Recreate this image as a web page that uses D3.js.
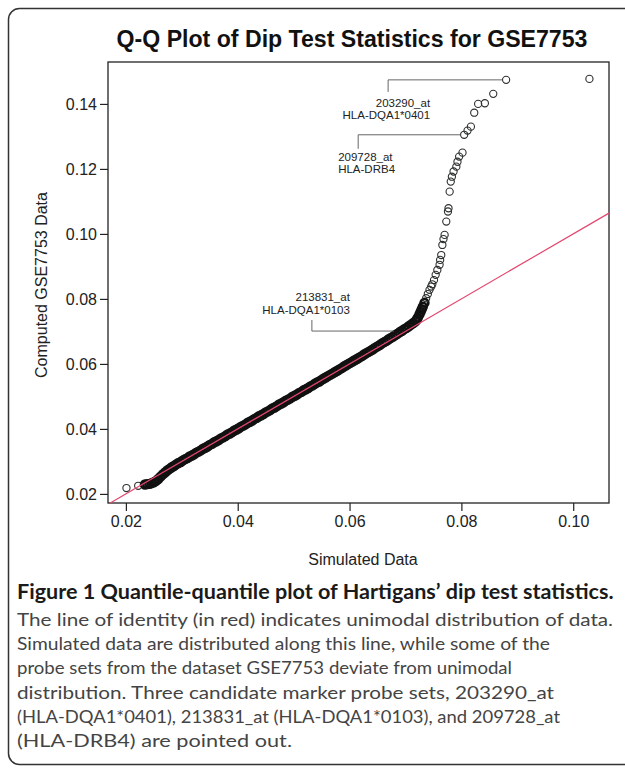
<!DOCTYPE html>
<html>
<head>
<meta charset="utf-8">
<script src="https://cdn.jsdelivr.net/npm/d3@7"></script>
<style>
  body { margin: 0; background: #fff; }
  svg { display: block; }
</style>
</head>
<body>
<svg id="chart" width="625" height="771"></svg>
<script>
const chartTitle = 'Q-Q Plot of Dip Test Statistics for GSE7753';
const xLabel = 'Simulated Data';
const yLabel = 'Computed GSE7753 Data';
const xTicks = [0.02, 0.04, 0.06, 0.08, 0.10];
const yTicks = [0.02, 0.04, 0.06, 0.08, 0.10, 0.12, 0.14];

// simulated quantiles (x) and observed GSE7753 dip statistics (y)
const simulated = [
    0.0201, 0.0222,
    0.0234, 0.0238, 0.0242, 0.0246, 0.0250, 0.0254, 0.0258, 0.0262, 0.0266, 0.0270,
    0.0274, 0.0278, 0.0282, 0.0286, 0.0290, 0.0294, 0.0298, 0.0302, 0.0306, 0.0310,
    0.0314, 0.0318, 0.0322, 0.0326, 0.0330, 0.0334, 0.0338, 0.0342, 0.0346, 0.0350,
    0.0354, 0.0358, 0.0362, 0.0366, 0.0370, 0.0374, 0.0378, 0.0382, 0.0386, 0.0390,
    0.0394, 0.0398, 0.0402, 0.0406, 0.0410, 0.0414, 0.0418, 0.0422, 0.0426, 0.0430,
    0.0434, 0.0438, 0.0442, 0.0446, 0.0450, 0.0454, 0.0458, 0.0462, 0.0466, 0.0470,
    0.0474, 0.0478, 0.0482, 0.0486, 0.0490, 0.0494, 0.0498, 0.0502, 0.0506, 0.0510,
    0.0514, 0.0518, 0.0522, 0.0526, 0.0530, 0.0534, 0.0538, 0.0542, 0.0546, 0.0550,
    0.0554, 0.0558, 0.0562, 0.0566, 0.0570, 0.0574, 0.0578, 0.0582, 0.0586, 0.0590,
    0.0594, 0.0598, 0.0602, 0.0606, 0.0610, 0.0614, 0.0618, 0.0622, 0.0626, 0.0630,
    0.0634, 0.0638, 0.0642, 0.0646, 0.0650, 0.0654, 0.0658, 0.0662, 0.0666, 0.0670,
    0.0674, 0.0678, 0.0682, 0.0686, 0.0690, 0.0694, 0.0698, 0.0702, 0.0706, 0.0710,
    0.0714, 0.0718,
    0.0720, 0.0722, 0.0725, 0.0727, 0.0729, 0.0731, 0.0734, 0.0737, 0.0740, 0.0743,
    0.0746, 0.0748, 0.0751, 0.0754, 0.0757, 0.0761, 0.0762, 0.0764, 0.0766, 0.0768,
    0.0770, 0.0773, 0.0776, 0.0777, 0.0779, 0.0781, 0.0783, 0.0786, 0.0791, 0.0793,
    0.0796, 0.0802, 0.0805, 0.0811, 0.0817, 0.0823, 0.0830, 0.0842, 0.0857, 0.0880,
    0.1029,
];
const computed = [
    0.0218, 0.0225,
    0.0229, 0.0230, 0.0231, 0.0233, 0.0236, 0.0240, 0.0246, 0.0253, 0.0260, 0.0266,
    0.0272, 0.0277, 0.0282, 0.0286, 0.0291, 0.0295, 0.0298, 0.0303, 0.0307, 0.0310,
    0.0315, 0.0318, 0.0322, 0.0327, 0.0330, 0.0334, 0.0339, 0.0342, 0.0346, 0.0351,
    0.0354, 0.0359, 0.0362, 0.0366, 0.0371, 0.0374, 0.0378, 0.0383, 0.0386, 0.0390,
    0.0395, 0.0398, 0.0402, 0.0407, 0.0410, 0.0414, 0.0419, 0.0422, 0.0426, 0.0431,
    0.0434, 0.0439, 0.0442, 0.0446, 0.0451, 0.0454, 0.0458, 0.0463, 0.0466, 0.0470,
    0.0475, 0.0478, 0.0482, 0.0487, 0.0490, 0.0494, 0.0499, 0.0502, 0.0506, 0.0511,
    0.0514, 0.0519, 0.0522, 0.0526, 0.0531, 0.0534, 0.0539, 0.0543, 0.0546, 0.0551,
    0.0555, 0.0559, 0.0563, 0.0567, 0.0571, 0.0575, 0.0579, 0.0583, 0.0587, 0.0592,
    0.0596, 0.0600, 0.0604, 0.0608, 0.0612, 0.0616, 0.0620, 0.0624, 0.0629, 0.0633,
    0.0637, 0.0641, 0.0645, 0.0650, 0.0654, 0.0658, 0.0663, 0.0667, 0.0671, 0.0676,
    0.0680, 0.0684, 0.0689, 0.0693, 0.0698, 0.0702, 0.0707, 0.0711, 0.0716, 0.0721,
    0.0726, 0.0731,
    0.0736, 0.0742, 0.0752, 0.0760, 0.0768, 0.0776, 0.0788, 0.0802, 0.0815, 0.0828,
    0.0838, 0.0845, 0.0858, 0.0874, 0.0889, 0.0905, 0.0920, 0.0935, 0.0966, 0.0984,
    0.0997, 0.1038, 0.1069, 0.1079, 0.1130, 0.1161, 0.1176, 0.1192, 0.1207, 0.1222,
    0.1238, 0.1250, 0.1305, 0.1318, 0.1330, 0.1373, 0.1400, 0.1402, 0.1431, 0.1474,
    0.1477,
];

// pointed-out probe sets and the point each one labels
const probeIds = ['203290_at', '209728_at', '213831_at'];
const geneNames = ['HLA-DQA1*0401', 'HLA-DRB4', 'HLA-DQA1*0103'];
const probeSim = [0.0880, 0.0805, 0.0690];

const captionTitle = 'Figure 1 Quantile-quantile plot of Hartigans\u2019 dip test statistics.';
const captionLines = [
    'The line of identity (in red) indicates unimodal distribution of data.',
    'Simulated data are distributed along this line, while some of the',
    'probe sets from the dataset GSE7753 deviate from unimodal',
    'distribution. Three candidate marker probe sets, 203290_at',
    '(HLA-DQA1*0401), 213831_at (HLA-DQA1*0103), and 209728_at',
    '(HLA-DRB4) are pointed out.',
];

const svg = d3.select('#chart');
const box = { left: 108, top: 62, right: 609, bottom: 503 };
const axisFont = '"Liberation Sans", Arial, sans-serif';

// outer figure frame, right edge runs off the page
svg.append('rect')
    .attr('x', 8.5)
    .attr('y', 8.5)
    .attr('width', 660)
    .attr('height', 756)
    .attr('rx', 11)
    .attr('fill', 'none')
    .attr('stroke', '#333')
    .attr('stroke-width', 1.5);

const x = d3.scaleLinear().domain([0.0168, 0.1064]).range([box.left, box.right]);
const y = d3.scaleLinear().domain([0.0172, 0.1529]).range([box.bottom, box.top]);

const title = svg.append('text')
    .attr('x', 352)
    .attr('y', 47)
    .attr('text-anchor', 'middle')
    .style('font-family', axisFont)
    .style('font-weight', 'bold')
    .style('font-size', '20px')
    .attr('fill', '#111')
    .text(chartTitle);
const tw = title.node().getComputedTextLength();
title.style('font-size', `${(20 * 471) / tw}px`);

const xAxis = svg.append('g')
    .attr('transform', `translate(0,${box.bottom})`)
    .call(d3.axisBottom(x).tickValues(xTicks).tickFormat(d3.format('.2f')).tickSize(8).tickPadding(5));
const yAxis = svg.append('g')
    .attr('transform', `translate(${box.left},0)`)
    .call(d3.axisLeft(y).tickValues(yTicks).tickFormat(d3.format('.2f')).tickSize(8).tickPadding(3));

[xAxis, yAxis].forEach((g) => {
    g.select('.domain').remove();
    g.selectAll('line').attr('stroke', '#222').attr('stroke-width', 1.2);
    g.selectAll('text')
        .style('font-family', axisFont)
        .style('font-size', '16px')
        .attr('fill', '#222');
});

svg.append('rect')
    .attr('x', box.left)
    .attr('y', box.top)
    .attr('width', box.right - box.left)
    .attr('height', box.bottom - box.top)
    .attr('fill', 'none')
    .attr('stroke', '#222')
    .attr('stroke-width', 1.3);

svg.append('text')
    .attr('x', 363)
    .attr('y', 565)
    .attr('text-anchor', 'middle')
    .style('font-family', axisFont)
    .style('font-size', '16px')
    .attr('fill', '#222')
    .text(xLabel);

svg.append('text')
    .attr('transform', 'translate(47,285) rotate(-90)')
    .attr('text-anchor', 'middle')
    .style('font-family', axisFont)
    .style('font-size', '16px')
    .attr('fill', '#222')
    .text(yLabel);

const plot = svg.append('g');
const points = simulated.map((d, i) => [d, computed[i]]);
// the body of the distribution is heavily overplotted, so it prints as a solid band
const dense = (d) => d[0] > 0.023 && d[0] < 0.0735;

plot.selectAll('circle')
    .data(points)
    .enter()
    .append('circle')
    .attr('cx', (d) => x(d[0]))
    .attr('cy', (d) => y(d[1]))
    .attr('r', (d) => (dense(d) ? 3.9 : 3.6))
    .attr('fill', 'none')
    .attr('stroke', (d) => (dense(d) ? '#111' : '#2b2f2e'))
    .attr('stroke-width', (d) => (dense(d) ? 2.6 : 1.1));

// line of identity
plot.append('line')
    .attr('x1', x(0.0172))
    .attr('y1', y(0.0172))
    .attr('x2', x(0.1064))
    .attr('y2', y(0.1064))
    .attr('stroke', '#e5466f')
    .attr('stroke-width', 1.2);

// leader lines: horizontal run from the point, then a short vertical drop
const leaders = [
    { run: -114, drop: 12, tx: -76, ty: 27, anchor: 'end' },
    { run: -102, drop: 14, tx: -126, ty: 26, anchor: 'start' },
    { run: -82, drop: -11, tx: -48, ty: -31, anchor: 'end' },
];

probeIds.forEach((id, i) => {
    const idx = simulated.indexOf(probeSim[i]);
    const px = x(simulated[idx]) - (i === 2 ? 6 : 4);
    const py = y(computed[idx]);
    const L = leaders[i];
    const ly = i === 2 ? py - 1 : py;

    plot.append('path')
        .attr('d', `M${px},${ly}H${px + L.run}V${ly + L.drop}`)
        .attr('fill', 'none')
        .attr('stroke', '#666')
        .attr('stroke-width', 1);

    const label = plot.append('text')
        .attr('x', px + 4 + L.tx)
        .attr('y', py + L.ty)
        .attr('text-anchor', L.anchor)
        .style('font-family', axisFont)
        .style('font-size', '11.5px')
        .attr('fill', '#222');
    label.append('tspan').text(id);
    label.append('tspan')
        .attr('x', px + 4 + L.tx)
        .attr('dy', 12.5)
        .text(geneNames[i]);
});

// caption
const capFont = 'Lato, "Open Sans", sans-serif';
const capTitle = svg.append('text')
    .attr('x', 17)
    .attr('y', 599)
    .style('font-family', capFont)
    .style('font-weight', 'bold')
    .style('font-size', '17px')
    .attr('fill', '#1a1a1a')
    .text(captionTitle);
const ctw = capTitle.node().getComputedTextLength();
capTitle.style('font-size', `${(17 * 597) / ctw}px`);

// printed line widths of the body text, so the ragged right edge matches
const lineWidths = [596, 533, 495, 537, 543, 275];
const capBody = svg.append('g');
capBody.selectAll('text')
    .data(captionLines)
    .enter()
    .append('text')
    .attr('x', 17)
    .attr('y', (d, i) => 626 + i * 24.2)
    .style('font-family', capFont)
    .style('font-size', '16.5px')
    .attr('fill', '#444')
    .attr('textLength', (d, i) => lineWidths[i])
    .attr('lengthAdjust', 'spacingAndGlyphs')
    .text((d) => d);
</script>
</body>
</html>
